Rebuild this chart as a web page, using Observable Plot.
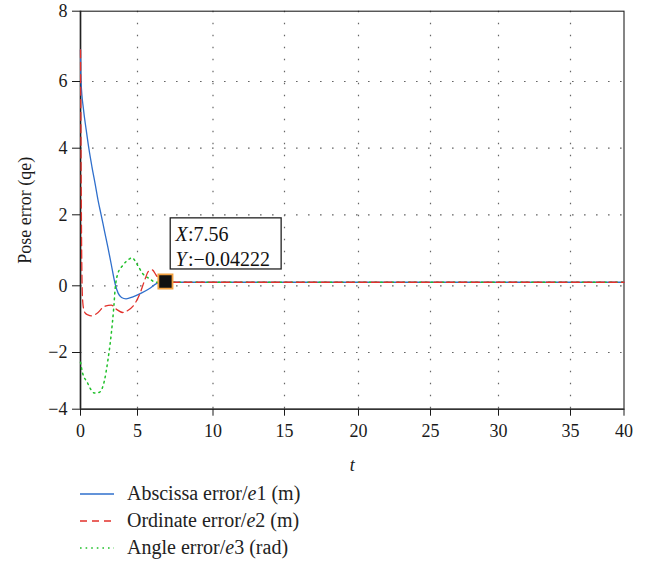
<!DOCTYPE html>
<html>
<head>
<meta charset="utf-8">
<script src="https://cdn.jsdelivr.net/npm/d3@7"></script>
<script src="https://cdn.jsdelivr.net/npm/@observablehq/plot@0.6"></script>
<style>
  html, body { margin: 0; padding: 0; background: #fff; }
  #chart { position: relative; width: 653px; }
  #chart svg text { font-family: "Liberation Serif", "DejaVu Serif", serif; }
  g[aria-label="x-axis label"] text { font-style: italic; }
  .legend { font-family: "Liberation Serif", "DejaVu Serif", serif; font-size: 20px; color: #222; padding-left: 80px; }
  .legend .row { display: flex; align-items: center; height: 27px; }
  .legend svg { margin-right: 13px; }
</style>
</head>
<body>
<div id="chart"></div>
<script>
// ---- data ----
const xTicks = [0, 5, 10, 15, 20, 25, 30, 35, 40];
const yTicks = [-4, -2, 0, 2, 4, 6, 8];

const t1 = [0, 0.02, 0.05, 0.26, 0.5, 0.73, 1.0, 1.3, 1.55, 1.81, 2.1, 2.4, 2.7, 3.04, 3.3, 3.6, 4.0, 4.6, 5.25, 5.8, 6.25, 6.6, 7, 8, 40];
const e1 = [6.9, 6.3, 6.0, 5.17, 4.55, 4.0, 3.45, 2.9, 2.42, 2.0, 1.55, 1.09, 0.6, 0.05, -0.22, -0.35, -0.39, -0.33, -0.22, -0.08, 0.06, 0.1, 0.1, 0.1, 0.1];

const t2 = [0, 0.03, 0.06, 0.1, 0.14, 0.2, 0.3, 0.45, 0.65, 0.95, 1.4, 2.1, 2.7, 3.13, 3.7, 4.15, 4.74, 5.13, 5.47, 5.73, 5.96, 6.25, 6.55, 7, 8, 40];
const e2 = [6.9, 5.0, 3.0, 1.0, 0.0, -0.5, -0.72, -0.83, -0.87, -0.9, -0.84, -0.62, -0.58, -0.7, -0.8, -0.74, -0.55, -0.27, 0.15, 0.41, 0.45, 0.29, 0.12, 0.1, 0.1, 0.1];

const t3 = [0, 0.2, 0.58, 0.9, 1.23, 1.67, 2.1, 2.4, 2.7, 2.92, 3.04, 3.27, 3.7, 4.3, 4.5, 5.02, 5.35, 5.8, 6.2, 7, 8, 40];
const e3 = [-2.34, -2.75, -3.04, -3.3, -3.43, -3.4, -2.99, -2.28, -1.44, -0.64, -0.09, 0.34, 0.57, 0.76, 0.79, 0.57, 0.34, 0.2, 0.1, 0.1, 0.1, 0.1];

const seriesNames = ["Abscissa error/e1 (m)", "Ordinate error/e2 (m)", "Angle error/e3 (rad)"];

// data tip (in data units)
const tipPointT = [6.85];
const tipPointE = [0.12];
const tipBoxT = [7.2, 14.8];
const tipBoxE = [0.46, 1.9];
const tipKeys = ["X", "Y"];
const tipValues = [":7.56", ":\u22120.04222"];
const tipLineT = [7.52, 7.52];
const tipLineE = [1.27, 0.57];

// ---- build tables ----
const zip = (ts, es) => ts.map((t, i) => ({t, e: es[i]}));
const d1 = zip(t1, e1), d2 = zip(t2, e2), d3v = zip(t3, e3);
const tipPoint = tipPointT.map((t, i) => ({t, e: tipPointE[i]}));
const tipBox = [{x1: tipBoxT[0], x2: tipBoxT[1], y1: tipBoxE[0], y2: tipBoxE[1]}];
const tipLines = tipKeys.map((k, i) => ({k, v: tipValues[i], t: tipLineT[i], e: tipLineE[i]}));

const colors = ["#2f6fcc", "#e2312b", "#1fc02a"];
const dashes = [null, "8,4.5", "1.6,4"];

const W = 653, H = 480;
const xRange = [80, 137, 212.5, 284, 358, 430, 498, 570, 623.5];
const yRange = [408.7, 352, 285.3, 214.3, 147.7, 81, 10.7];

const plot = Plot.plot({
  width: W,
  height: H,
  marginLeft: 80,
  marginRight: W - 623.5,
  marginTop: 10.7,
  marginBottom: H - 408.7,
  style: {fontFamily: "'Liberation Serif', 'DejaVu Serif', serif", fontSize: "18px", color: "#1a1a1a", background: "#fff"},
  x: {type: "linear", domain: xTicks, range: xRange},
  y: {type: "linear", domain: yTicks, range: yRange},
  marks: [
    Plot.gridX(xTicks.slice(1, -1), {stroke: "#666", strokeOpacity: 1, strokeWidth: 1.2, strokeDasharray: "1.6,10.4"}),
    Plot.gridY(yTicks.slice(1, -1), {stroke: "#666", strokeOpacity: 1, strokeWidth: 1.2, strokeDasharray: "1.6,10.4"}),
    Plot.frame({stroke: "#222", strokeWidth: 1.1}),
    Plot.ruleX([0], {stroke: "#222", strokeWidth: 1.6}),
    Plot.ruleY([-4], {stroke: "#333", strokeWidth: 1.6}),
    Plot.axisX({ticks: xTicks, tickSize: 7, tickPadding: 8, fontSize: 18, label: "t", labelAnchor: "center", labelOffset: 62, labelArrow: "none", tickFormat: d => String(d)}),
    Plot.axisY({ticks: yTicks, tickSize: 8, tickPadding: 5, fontSize: 18, label: "Pose error (qe)", labelAnchor: "center", labelOffset: 62, labelArrow: "none", tickFormat: d => d < 0 ? "\u2212" + Math.abs(d) : String(d)}),
    Plot.line(d1, {x: "t", y: "e", stroke: colors[0], strokeWidth: 1.3, curve: "monotone-x"}),
    Plot.line(d3v, {x: "t", y: "e", stroke: colors[2], strokeWidth: 1.5, strokeDasharray: dashes[2], curve: "monotone-x"}),
    Plot.line(d2, {x: "t", y: "e", stroke: colors[1], strokeWidth: 1.3, strokeDasharray: dashes[1], curve: "monotone-x"}),
    Plot.rect(tipBox, {x1: "x1", x2: "x2", y1: "y1", y2: "y2", fill: "#fff", stroke: "#222", strokeWidth: 1.3}),
    Plot.text(tipLines, {x: "t", y: "e", text: "k", textAnchor: "start", lineAnchor: "bottom", fontSize: 20, fontStyle: "italic", fill: "#111"}),
    Plot.text(tipLines, {x: "t", y: "e", text: "v", textAnchor: "start", lineAnchor: "bottom", fontSize: 20, dx: 12.5, fill: "#111"}),
    Plot.dot(tipPoint, {x: "t", y: "e", symbol: "square", r: 8, fill: "#111", stroke: "#f2a040", strokeWidth: 1.8})
  ]
});
document.getElementById("chart").appendChild(plot);

// legend below the SVG
const legend = document.createElement("div");
legend.className = "legend";
seriesNames.forEach((name, i) => {
  const row = document.createElement("div");
  row.className = "row";
  const parts = name.split(/\/e(\d)/);
  const dash = dashes[i] ? (i === 1 ? "7,5" : "1.6,4") : "none";
  row.innerHTML = `<svg width="34" height="10"><line x1="0" y1="5" x2="34" y2="5" stroke="${colors[i]}" stroke-width="1.3" stroke-dasharray="${dash}"/></svg>` +
    `<span>${parts[0]}/<i>e</i>${parts[1]}${parts[2]}</span>`;
  legend.appendChild(row);
});
document.getElementById("chart").appendChild(legend);
</script>
</body>
</html>
